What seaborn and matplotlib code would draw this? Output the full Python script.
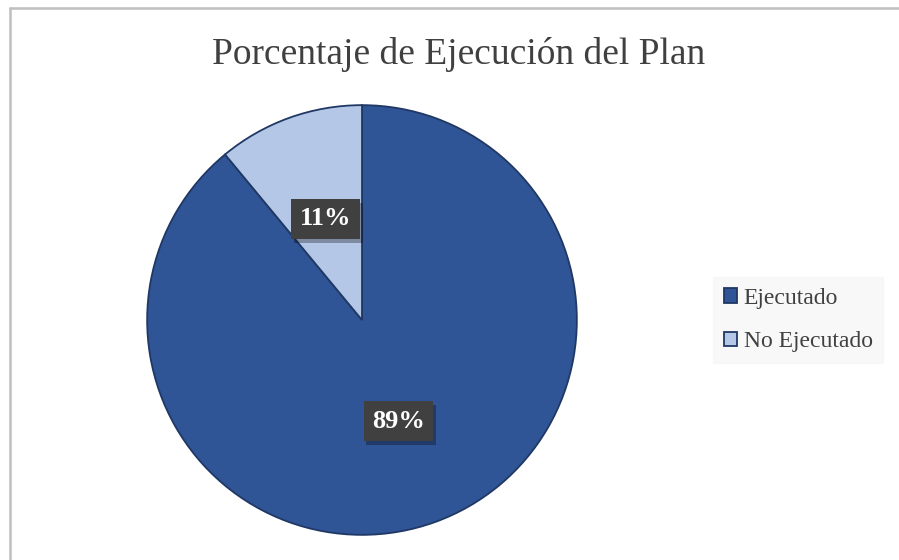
import matplotlib.pyplot as plt
import matplotlib.patheffects as pe
from matplotlib.lines import Line2D
import seaborn as sns

# data
categorias = ["Ejecutado", "No Ejecutado"]
porcentajes = [89, 11]
colores = ["#2F5597", "#B4C7E7"]
titulo = "Porcentaje de Ejecución del Plan"

sns.set_theme(style="white")
plt.rcParams['font.family'] = ['Liberation Serif', 'DejaVu Serif']

fig = plt.figure(figsize=(8.99, 5.60), dpi=100)
fig.patch.set_facecolor("white")

# grey chart-area frame (only top and left edges visible in the crop)
x0, y0 = 9.5 / 899, 1 - 7.5 / 560
fig.lines.append(Line2D([x0, 1.0], [y0, y0], transform=fig.transFigure,
                        color="#BFBFBF", lw=1.8))
fig.lines.append(Line2D([x0, x0], [0.0, y0], transform=fig.transFigure,
                        color="#BFBFBF", lw=1.8))

# square axes so the pie is centred at (362, 320) px with radius 217 px
ax = fig.add_axes([(362 - 217) / 899, (560 - 537) / 560, 434 / 899, 434 / 560])
wedges, texts, autotexts = ax.pie(porcentajes, colors=sns.color_palette(colores),
                                  startangle=90, counterclock=False,
                                  autopct="%1.0f%%", pctdistance=0.5,
                                  wedgeprops=dict(edgecolor="#1F3864", linewidth=1.3))
ax.set_xlim(-1.01, 1.01)
ax.set_ylim(-1.01, 1.01)
ax.set_aspect("equal")

for t in autotexts:
    t.set_color("white")
    t.set_fontsize(19)
    t.set_fontweight("bold")
    t.set_bbox(dict(boxstyle="square,pad=0.32", facecolor="#404040",
                    edgecolor="none"))
    t.get_bbox_patch().set_path_effects([
        pe.SimplePatchShadow(offset=(2, -3), shadow_rgbFace="#000000", alpha=0.3),
        pe.Normal()])

fig.text(459 / 899, 1 - 54 / 560, titulo, ha="center", va="center",
         fontsize=27, color="#404040")

leg = fig.legend(wedges, categorias, loc="center left",
                 bbox_to_anchor=(713 / 899, 1 - 320 / 560),
                 frameon=True, fancybox=False, fontsize=17,
                 handlelength=0.55, handleheight=0.55, handletextpad=0.3,
                 labelspacing=0.95, borderpad=0.45, borderaxespad=0)
leg.get_frame().set_facecolor("#F7F7F7")
leg.get_frame().set_edgecolor("#F7F7F7")
for t in leg.get_texts():
    t.set_color("#404040")

fig.savefig("out.png", dpi=100)
